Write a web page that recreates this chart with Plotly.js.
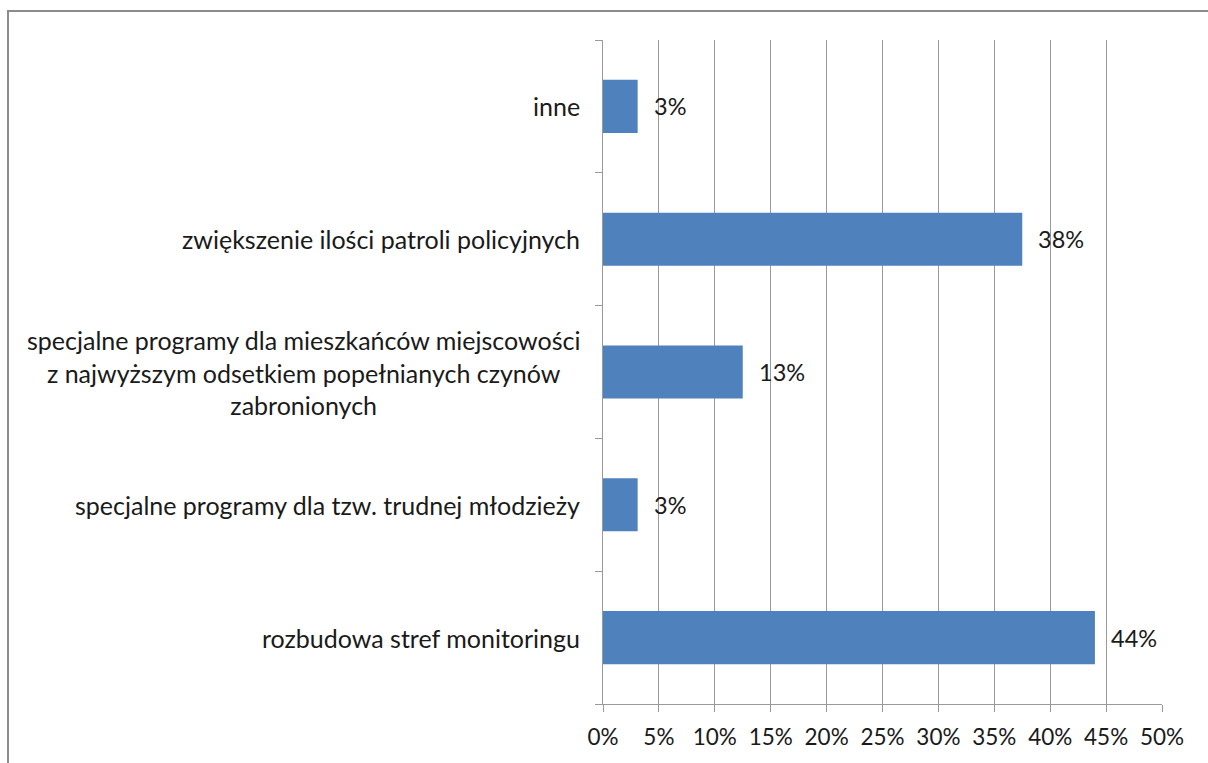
<!DOCTYPE html>
<html>
<head>
<meta charset="utf-8">
<script src="https://cdn.plot.ly/plotly-3.0.1.min.js"></script>
<style>html,body{margin:0;padding:0;background:#fff;}#chart{width:1208px;height:763px;}</style>
</head>
<body>
<div id="chart"></div>
<script>
const categories = [
  "rozbudowa stref monitoringu",
  "specjalne programy dla tzw. trudnej młodzieży",
  "specjalne programy dla mieszkańców miejscowości<br>z najwyższym odsetkiem popełnianych czynów<br>zabronionych",
  "zwiększenie ilości patroli policyjnych",
  "inne"
];
const values = [0.44, 0.031, 0.125, 0.375, 0.031];
const valueLabels = ["44%", "3%", "13%", "38%", "3%"];
const tickValues = [0, 0.05, 0.10, 0.15, 0.20, 0.25, 0.30, 0.35, 0.40, 0.45, 0.50];
const tickLabels = ["0%", "5%", "10%", "15%", "20%", "25%", "30%", "35%", "40%", "45%", "50%"];

const FONT = "Lato, 'Open Sans', sans-serif";
const catSize = 25;
const valSize = 23.5;
const tickSize = 22.5;
const TEXT = "#1a1a1a";

const trace = {
  type: "bar",
  orientation: "h",
  x: values,
  y: categories,
  width: 0.4,
  marker: {color: "#4F81BD", line: {width: 0}},
  hoverinfo: "none"
};

const annotations = [];
categories.forEach((c, i) => {
  annotations.push({
    xref: "paper", yref: "y", x: 0, y: c, xanchor: "right", yanchor: "middle",
    xshift: -21, text: c, align: "center", showarrow: false,
    font: {family: FONT, size: catSize, color: TEXT}
  });
  annotations.push({
    xref: "x", yref: "y", x: values[i], y: c, xanchor: "left", yanchor: "middle",
    xshift: 14, text: valueLabels[i], showarrow: false,
    font: {family: FONT, size: valSize, color: TEXT}
  });
});

const layout = {
  width: 1208, height: 763,
  margin: {l: 603, r: 46, t: 40, b: 59, pad: 0},
  paper_bgcolor: "#fff", plot_bgcolor: "#fff",
  showlegend: false,
  font: {family: FONT, size: tickSize, color: TEXT},
  xaxis: {
    range: [0, 0.5], tickvals: tickValues, ticktext: tickLabels,
    showgrid: true, gridcolor: "#9a9a9a", gridwidth: 1,
    zeroline: false, showline: true, linecolor: "#9a9a9a", linewidth: 1,
    ticks: "outside", ticklen: 7, tickcolor: "#9a9a9a", tickwidth: 1,
    ticklabelstandoff: 6,
    tickfont: {family: FONT, size: tickSize, color: TEXT}, fixedrange: true
  },
  yaxis: {
    type: "category", categoryorder: "array", categoryarray: categories,
    range: [-0.5, 4.5], showticklabels: false,
    showgrid: false, zeroline: false, showline: true, linecolor: "#9a9a9a", linewidth: 1,
    ticks: "outside", tickson: "boundaries", ticklen: 7, tickcolor: "#9a9a9a", tickwidth: 1,
    fixedrange: true
  },
  annotations: annotations,
  shapes: [{
    type: "rect", xref: "paper", yref: "paper",
    x0: (8 - 603) / 559, x1: (1230 - 603) / 559,
    y0: (704 - 790) / 664, y1: (704 - 11) / 664,
    line: {color: "#8c8c8c", width: 2}, fillcolor: "rgba(0,0,0,0)", layer: "below"
  }]
};

Plotly.newPlot("chart", [trace], layout, {displayModeBar: false, staticPlot: true});
</script>
</body>
</html>
